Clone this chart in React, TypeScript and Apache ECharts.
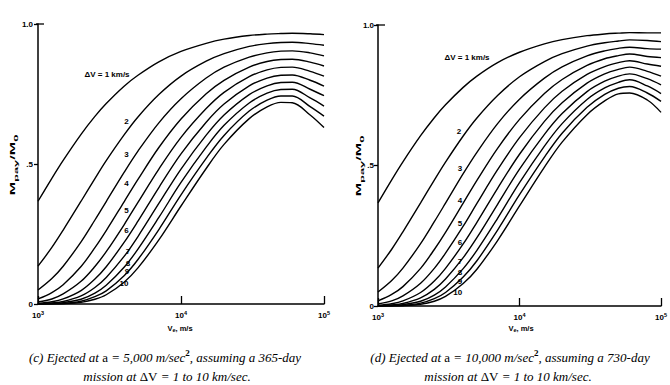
import React, { useEffect, useRef } from "react";
import * as echarts from "echarts";

// exhaust velocity samples (m/s)
const VE = [1000, 1250, 1500, 2000, 2500, 3000, 4000, 5000, 7000, 10000, 15000, 20000, 30000, 40000, 50000, 60000, 80000, 100000];

// (c) a = 5,000 m/s^2, 365-day mission — Mpay/M0 for ΔV = 1..10 km/s
const C_DV1 = [0.367, 0.449, 0.513, 0.606, 0.670, 0.716, 0.778, 0.817, 0.865, 0.902, 0.931, 0.946, 0.959, 0.964, 0.966, 0.967, 0.965, 0.962];
const C_DV2 = [0.135, 0.202, 0.264, 0.367, 0.448, 0.512, 0.604, 0.668, 0.748, 0.814, 0.867, 0.894, 0.920, 0.930, 0.934, 0.935, 0.930, 0.924];
const C_DV3 = [0.050, 0.091, 0.135, 0.222, 0.300, 0.366, 0.470, 0.546, 0.647, 0.733, 0.807, 0.846, 0.882, 0.897, 0.903, 0.904, 0.897, 0.886];
const C_DV4 = [0.018, 0.041, 0.069, 0.134, 0.201, 0.262, 0.365, 0.445, 0.559, 0.661, 0.751, 0.799, 0.846, 0.866, 0.873, 0.874, 0.864, 0.850];
const C_DV5 = [0.007, 0.018, 0.036, 0.081, 0.134, 0.187, 0.283, 0.363, 0.482, 0.595, 0.698, 0.756, 0.812, 0.836, 0.845, 0.846, 0.831, 0.814];
const C_DV6 = [0.002, 0.008, 0.018, 0.048, 0.089, 0.133, 0.220, 0.296, 0.416, 0.536, 0.649, 0.714, 0.779, 0.807, 0.817, 0.818, 0.799, 0.778];
const C_DV7 = [0.001, 0.004, 0.009, 0.029, 0.059, 0.095, 0.170, 0.241, 0.359, 0.482, 0.603, 0.675, 0.748, 0.779, 0.791, 0.792, 0.767, 0.744];
const C_DV8 = [0.000, 0.002, 0.005, 0.017, 0.039, 0.067, 0.131, 0.196, 0.309, 0.434, 0.560, 0.638, 0.718, 0.753, 0.766, 0.767, 0.736, 0.707];
const C_DV9 = [0.000, 0.001, 0.002, 0.010, 0.026, 0.047, 0.101, 0.159, 0.266, 0.390, 0.520, 0.602, 0.689, 0.728, 0.743, 0.743, 0.705, 0.671];
const C_DV10 = [0.000, 0.000, 0.001, 0.006, 0.017, 0.033, 0.078, 0.129, 0.229, 0.350, 0.484, 0.570, 0.662, 0.704, 0.720, 0.719, 0.675, 0.630];

// (d) a = 10,000 m/s^2, 730-day mission
const D_DV1 = [0.367, 0.449, 0.513, 0.606, 0.670, 0.716, 0.778, 0.818, 0.866, 0.903, 0.933, 0.948, 0.962, 0.968, 0.971, 0.973, 0.972, 0.972];
const D_DV2 = [0.135, 0.202, 0.264, 0.367, 0.448, 0.512, 0.605, 0.669, 0.749, 0.816, 0.870, 0.898, 0.925, 0.937, 0.943, 0.947, 0.945, 0.941];
const D_DV3 = [0.050, 0.091, 0.135, 0.222, 0.300, 0.366, 0.471, 0.547, 0.649, 0.736, 0.811, 0.851, 0.890, 0.908, 0.917, 0.921, 0.916, 0.914];
const D_DV4 = [0.018, 0.041, 0.069, 0.134, 0.201, 0.262, 0.366, 0.447, 0.561, 0.664, 0.756, 0.806, 0.856, 0.880, 0.891, 0.897, 0.888, 0.884];
const D_DV5 = [0.007, 0.018, 0.036, 0.081, 0.134, 0.188, 0.284, 0.365, 0.485, 0.599, 0.705, 0.764, 0.824, 0.852, 0.866, 0.873, 0.861, 0.853];
const D_DV6 = [0.002, 0.008, 0.018, 0.048, 0.089, 0.134, 0.221, 0.298, 0.419, 0.540, 0.657, 0.723, 0.793, 0.826, 0.842, 0.850, 0.835, 0.818];
const D_DV7 = [0.001, 0.004, 0.009, 0.029, 0.059, 0.096, 0.172, 0.243, 0.362, 0.487, 0.611, 0.685, 0.763, 0.800, 0.818, 0.826, 0.809, 0.787];
const D_DV8 = [0.000, 0.002, 0.005, 0.017, 0.039, 0.068, 0.133, 0.198, 0.312, 0.439, 0.569, 0.649, 0.735, 0.776, 0.796, 0.805, 0.783, 0.756];
const D_DV9 = [0.000, 0.001, 0.002, 0.010, 0.026, 0.048, 0.103, 0.161, 0.270, 0.396, 0.530, 0.615, 0.707, 0.753, 0.775, 0.781, 0.758, 0.728];
const D_DV10 = [0.000, 0.000, 0.001, 0.006, 0.017, 0.034, 0.080, 0.131, 0.233, 0.356, 0.494, 0.583, 0.681, 0.730, 0.755, 0.758, 0.733, 0.689];

const C_SERIES = [C_DV1, C_DV2, C_DV3, C_DV4, C_DV5, C_DV6, C_DV7, C_DV8, C_DV9, C_DV10];
const D_SERIES = [D_DV1, D_DV2, D_DV3, D_DV4, D_DV5, D_DV6, D_DV7, D_DV8, D_DV9, D_DV10];

const CURVE_LABELS = ["ΔV = 1 km/s", "2", "3", "4", "5", "6", "7", "8", "9", "10"];
const X_TICK_TEXT: Record<number, string> = { 1000: "{b|10}{s|3}", 10000: "{b|10}{s|4}", 100000: "{b|10}{s|5}" };
const Y_TICK_TEXT: Record<string, string> = { "0": "0", "0.5": ".5", "1": "1.0" };

// axis titles split into [text, isSubscript] pieces
const Y_TITLE: [string, boolean][] = [["M", false], ["pay", true], ["/M", false], ["0", true]];
const X_TITLE: [string, boolean][] = [["V", false], ["e", true], [", m/s", false]];

const CAPTION_C = ["(c) Ejected at ", "a", " = 5,000 m/sec", "2", ", assuming a 365-day"];
const CAPTION_D = ["(d) Ejected at ", "a", " = 10,000 m/sec", "2", ", assuming a 730-day"];
const CAPTION_LINE2 = ["mission at ", "ΔV", " = 1 to 10 km/sec."];

const SANS = "'Liberation Sans', Arial, Helvetica, sans-serif";
const SERIF = "'Liberation Serif', 'Times New Roman', serif";

// label positions (pixels) for each panel
const C_LABEL_POS = [[107, 74], [126.5, 121.5], [126.5, 154], [126.5, 183], [126.5, 210], [126.5, 230.5], [128, 251], [128, 263.5], [127, 271.5], [124, 283.5]];
const D_LABEL_POS = [[467, 57], [459, 131.7], [460, 168.3], [460, 200], [460, 223.3], [460, 242.5], [460, 261.7], [460, 272.5], [460, 281.2], [457.7, 292.5]];

function buildOption() {
  const grids = [
    { left: 38, top: 24, width: 286, height: 280 },
    { left: 378, top: 25, width: 284, height: 281 },
  ];
  const xAxis = [0, 1].map((i) => ({
    type: "log",
    logBase: 10,
    min: 1000,
    max: 100000,
    gridIndex: i,
    axisLine: { show: true, lineStyle: { color: "#000", width: 1.5 } },
    axisTick: { show: true, inside: true, length: 8, lineStyle: { color: "#000", width: 1.3 } },
    minorTick: { show: false },
    splitLine: { show: false },
    axisLabel: {
      show: true,
      margin: 6,
      formatter: (v: number) => X_TICK_TEXT[Math.round(v)] ?? "",
      rich: {
        b: { fontSize: 8, fontWeight: "bold", fontFamily: SANS, color: "#000", lineHeight: 9, verticalAlign: "bottom" },
        s: { fontSize: 5.5, fontWeight: "bold", fontFamily: SANS, color: "#000", lineHeight: 5, verticalAlign: "top" },
      },
    },
  }));
  const yAxis = [0, 1].map((i) => ({
    type: "value",
    min: 0,
    max: 1,
    interval: 0.5,
    gridIndex: i,
    axisLine: { show: true, lineStyle: { color: "#000", width: 1.5 } },
    axisTick: { show: true, inside: false, length: 4, lineStyle: { color: "#000", width: 1.3 } },
    splitLine: { show: false },
    axisLabel: {
      margin: i === 0 ? 5 : 4,
      fontSize: 8,
      fontWeight: "bold",
      fontFamily: SANS,
      color: "#000",
      formatter: (v: number) => Y_TICK_TEXT[String(v)] ?? "",
    },
  }));

  const mk = (arr: number[][], gi: number) =>
    arr.map((ys) => ({
      type: "line",
      xAxisIndex: gi,
      yAxisIndex: gi,
      data: VE.map((x, j) => [x, ys[j]]),
      showSymbol: false,
      symbol: "none",
      smooth: 0.35,
      silent: true,
      lineStyle: { color: "#000", width: 1.4 },
    }));

  const labelEls = (pos: number[][]) =>
    pos.map((p, i) => ({
      type: "text",
      x: p[0],
      y: p[1],
      silent: true,
      style: {
        text: CURVE_LABELS[i],
        fontSize: 8,
        fontWeight: "bold",
        fontFamily: SANS,
        fill: "#000",
        align: "center",
        verticalAlign: "middle",
        lineHeight: 7,
      },
    }));

  // approximate Liberation Sans Bold advance widths (em)
  const W: Record<string, number> = {
    M: 0.833, V: 0.667, p: 0.611, a: 0.556, y: 0.556, e: 0.556, "0": 0.556, "/": 0.278, ",": 0.278, " ": 0.278, m: 0.889, s: 0.556,
  };
  const textWidth = (t: string, fs: number) => t.split("").reduce((acc, ch) => acc + (W[ch] ?? 0.556) * fs, 0);

  const titleGroup = (pieces: [string, boolean][], x: number, y: number, main: number, sub: number, subDy: number, rotation: number, scaleX: number) => {
    const widths = pieces.map(([t, s]) => textWidth(t, s ? sub : main));
    const total = widths.reduce((a, b) => a + b, 0);
    let cx = -total / 2;
    const children = pieces.map(([t, s], k) => {
      const el = {
        type: "text",
        x: cx,
        y: s ? subDy : 0,
        silent: true,
        style: {
          text: t,
          fontSize: s ? sub : main,
          fontWeight: "bold",
          fontFamily: SANS,
          fill: "#000",
          align: "left",
          verticalAlign: "middle",
        },
      };
      cx += widths[k];
      return el;
    });
    return { type: "group", x, y, rotation, scaleX, silent: true, children };
  };

  const capRich = {
    i: { fontSize: 13, fontStyle: "italic", fontFamily: SERIF, fill: "#000", color: "#000", lineHeight: 15, verticalAlign: "bottom" },
    r: { fontSize: 13, fontStyle: "normal", fontFamily: SERIF, fill: "#000", color: "#000", lineHeight: 15, verticalAlign: "bottom" },
    p: { fontSize: 9, fontWeight: "bold", fontFamily: SERIF, fill: "#000", color: "#000", lineHeight: 11, verticalAlign: "top" },
  };
  const cap1 = (parts: string[]) => `{i|${parts[0]}}{r|${parts[1]}}{i|${parts[2]}}{p|${parts[3]}}{i|${parts[4]}}`;
  const cap2 = (parts: string[]) => `{i|${parts[0]}}{r|${parts[1]}}{i|${parts[2]}}`;
  const capEl = (x: number, y: number, text: string) => ({
    type: "text",
    x,
    y,
    silent: true,
    style: { text, rich: capRich, align: "center", verticalAlign: "middle" },
  });

  const innerTick = (x1: number, x2: number, y: number) => ({
    type: "line",
    silent: true,
    shape: { x1, y1: y, x2, y2: y },
    style: { stroke: "#000", lineWidth: 1.3 },
  });

  return {
    animation: false,
    backgroundColor: "#fff",
    grid: grids,
    xAxis,
    yAxis,
    series: [...mk(C_SERIES, 0), ...mk(D_SERIES, 1)],
    graphic: [
      ...labelEls(C_LABEL_POS),
      ...labelEls(D_LABEL_POS),
      titleGroup(Y_TITLE, 13, 165, 7.5, 6, 2.5, Math.PI / 2, 2.15),
      titleGroup(Y_TITLE, 359, 166, 7.5, 6, 2.5, Math.PI / 2, 2.15),
      titleGroup(X_TITLE, 180, 328, 7.5, 5.5, 2, 0, 1),
      titleGroup(X_TITLE, 521, 328, 7.5, 5.5, 2, 0, 1),
      innerTick(36, 44, 24),
      innerTick(376, 385, 25),
      capEl(165, 356, cap1(CAPTION_C)),
      capEl(167, 375, cap2(CAPTION_LINE2)),
      capEl(510, 356, cap1(CAPTION_D)),
      capEl(508, 375, cap2(CAPTION_LINE2)),
    ],
  };
}

export default function App() {
  const ref = useRef<HTMLDivElement>(null);
  useEffect(() => {
    if (!ref.current) return;
    const chart = echarts.init(ref.current, null, { renderer: "svg" });
    chart.setOption(buildOption() as any);
    return () => chart.dispose();
  }, []);
  return (
    <div
      ref={ref}
      style={{ position: "fixed", left: 0, top: 0, width: 670, height: 385, background: "#fff" }}
    />
  );
}
